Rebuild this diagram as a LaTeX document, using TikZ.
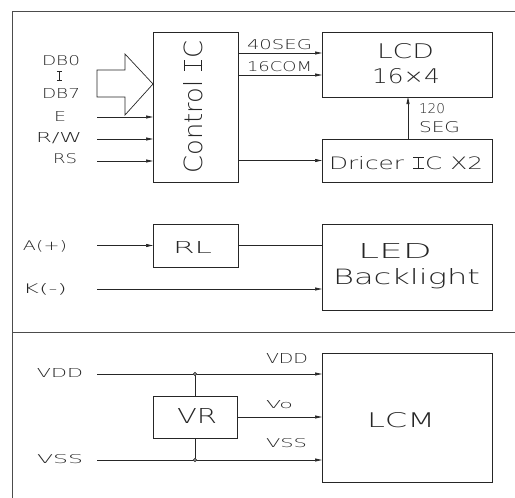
\documentclass[tikz,border=0pt]{standalone}
\usepackage{fontspec}
\usepackage{graphicx}
\usetikzlibrary{arrows.meta,calc}
\IfFontExistsTF{DejaVu Sans ExtraLight}{\setmainfont{DejaVu Sans ExtraLight}}{%
 \IfFontExistsTF{Lato Light}{\setmainfont{Lato Light}}{%
  \IfFontExistsTF{Open Sans Light}{\setmainfont{Open Sans Light}}{%
   \IfFontExistsTF{Fira Sans Light}{\setmainfont{Fira Sans Light}}{\setmainfont{Liberation Sans}}}}}
\newcommand{\ft}[3]{\resizebox{#1pt}{#2pt}{#3}}
% serifed capital I, built from thin rules (as in the CAD font)
\newcommand{\Ibar}{\mbox{\hspace{0.06em}\rlap{\rule{0.42em}{0.05em}}\rlap{\raisebox{0.679em}{\rule{0.42em}{0.05em}}}\hspace{0.185em}\rule{0.05em}{0.729em}\hspace{0.185em}\hspace{0.06em}}}
\begin{document}
\begin{tikzpicture}[x=1pt,y=-1pt,
  box/.style={draw=black!85, line width=0.8pt, inner sep=0pt, outer sep=0pt},
  lbl/.style={inner sep=0pt, outer sep=0pt, anchor=base west, text=black!85},
  arr/.style={-{Triangle[length=7pt,width=3pt]}, line width=0.7pt, draw=black!85},
  wire/.style={line width=0.7pt, draw=black!85},
  frame/.style={line width=1pt, draw=black!70},
  jdot/.style={circle, draw=black!80, fill=black!45, inner sep=0pt, minimum size=3.6pt, line width=0.5pt}]
\useasboundingbox (0,0) rectangle (515,498);
% frame
\draw[frame] (12,498) -- (12,11) -- (515,11);
\draw[frame] (12,332) -- (515,332);

% boxes
\node[box, minimum width=85pt, minimum height=150pt] (ctrl) at (195.5,107) {};
\node[box, minimum width=170pt, minimum height=65pt] (lcd) at (407,64.5) {};
\node[box, minimum width=170pt, minimum height=43pt] (drv) at (407,160.5) {};
\node[box, minimum width=85pt, minimum height=43pt] (rl) at (195.5,245.5) {};
\node[box, minimum width=170pt, minimum height=86pt] (led) at (407,267) {};
\node[box, minimum width=84pt, minimum height=42pt] (vr) at (195,417) {};
\node[box, minimum width=170pt, minimum height=129pt] (lcm) at (407,417.5) {};

% box texts
\node[inner sep=0pt, rotate=90, text=black!85] (tctrl) at (193,107) {\ft{133}{19}{Control \Ibar C}};
\node[lbl] (tlcd1) at (377,58) {\ft{57}{15}{LCD}};
\node[lbl] (tlcd2) at (372,83) {\ft{68}{15}{16×4}};
\node[lbl] (tdrv) at (329,169) {\ft{154}{13}{Dricer \Ibar C X2}};
\node[lbl] (trl) at (173,253) {\ft{39}{12}{RL}};
\node[lbl] (tled1) at (358,258) {\ft{74}{15}{LED}};
\node[lbl] (tled2) at (333,284) {\ft{147}{16}{Backlight}};
\node[lbl] (tvr) at (177,423) {\ft{40}{15}{VR}};
\node[lbl] (tlcm) at (367,427) {\ft{68}{15}{LCM}};

% left labels
\node[lbl] (ldb0) at (42,65) {\ft{38}{10}{DB0}};
\node[lbl] (li) at (56,81) {\ft{7}{10}{\Ibar}};
\node[lbl] (ldb7) at (42,98) {\ft{38}{10}{DB7}};
\node[lbl] (le) at (54,121) {\ft{12}{10}{E}};
\node[lbl] (lrw) at (36,142) {\ft{46}{10}{R/W}};
\node[lbl] (lrs) at (53,163) {\ft{24}{10}{RS}};
\node[lbl] (la) at (23,250) {\ft{44}{10}{A(+)}};
\node[lbl] (lk) at (23,293) {\ft{44}{10}{K(-)}};
\node[lbl] (lvdd) at (37,377) {\ft{46}{9}{VDD}};
\node[lbl] (lvss) at (37,463) {\ft{46}{9}{VSS}};

% connector labels
\node[lbl] (l40) at (247,49) {\ft{65}{10}{40SEG}};
\node[lbl] (l16) at (247,71) {\ft{65}{10}{16COM}};
\node[lbl] (l120) at (419,113) {\ft{26}{10}{120}};
\node[lbl] (lseg) at (419,132) {\ft{41}{11}{SEG}};
\node[lbl] (lvdd2) at (266,363) {\ft{42}{10}{VDD}};
\node[lbl] (lvo) at (266,408) {\ft{27}{8}{Vo}};
\node[lbl] (lvss2) at (266,447) {\ft{41}{9}{VSS}};

% bus arrow
\coordinate (busy) at (0,84);
\draw[wire] (97,70) -- (125,70) -- (125,54) -- (ctrl.west |- busy) -- (125,115) -- (125,97) -- (97,97) -- cycle;

% control inputs
\coordinate (inE) at (97,117);
\coordinate (inRW) at (97,139);
\coordinate (inRS) at (97,161);
\draw[arr] (inE) -- (inE -| ctrl.west);
\draw[arr] (inRW) -- (inRW -| ctrl.west);
\draw[arr] (inRS) -- (inRS -| ctrl.west);

% control outputs
\coordinate (o40) at ($(ctrl.north east)+(0,21)$);
\coordinate (o16) at ($(ctrl.north east)+(0,43)$);
\draw[arr] (o40) -- (o40 -| lcd.west);
\draw[arr] (o16) -- (o16 -| lcd.west);
\draw[arr] (ctrl.east |- drv.west) -- (drv.west);
\draw[arr] ($(drv.north)+(1,0)$) -- ($(lcd.south)+(1,0)$);

% backlight
\coordinate (inA) at (97,245.5);
\coordinate (inK) at (97,289);
\draw[arr] (inA) -- (rl.west);
\draw[wire] (rl.east) -- (rl.east -| led.west);
\draw[arr] (inK) -- (inK -| led.west);

% power
\coordinate (inVDD) at (97,374);
\coordinate (inVSS) at (97,460);
\draw[arr] (inVDD) -- (inVDD -| lcm.west);
\draw[arr] (inVSS) -- (inVSS -| lcm.west);
\draw[wire] (vr.north) -- (vr.north |- inVDD);
\draw[wire] (vr.south) -- (vr.south |- inVSS);
\draw[arr] (vr.east) -- (vr.east -| lcm.west);
\node[jdot] (j1) at (vr.north |- inVDD) {};
\node[jdot] (j2) at (vr.south |- inVSS) {};
\end{tikzpicture}
\end{document}
